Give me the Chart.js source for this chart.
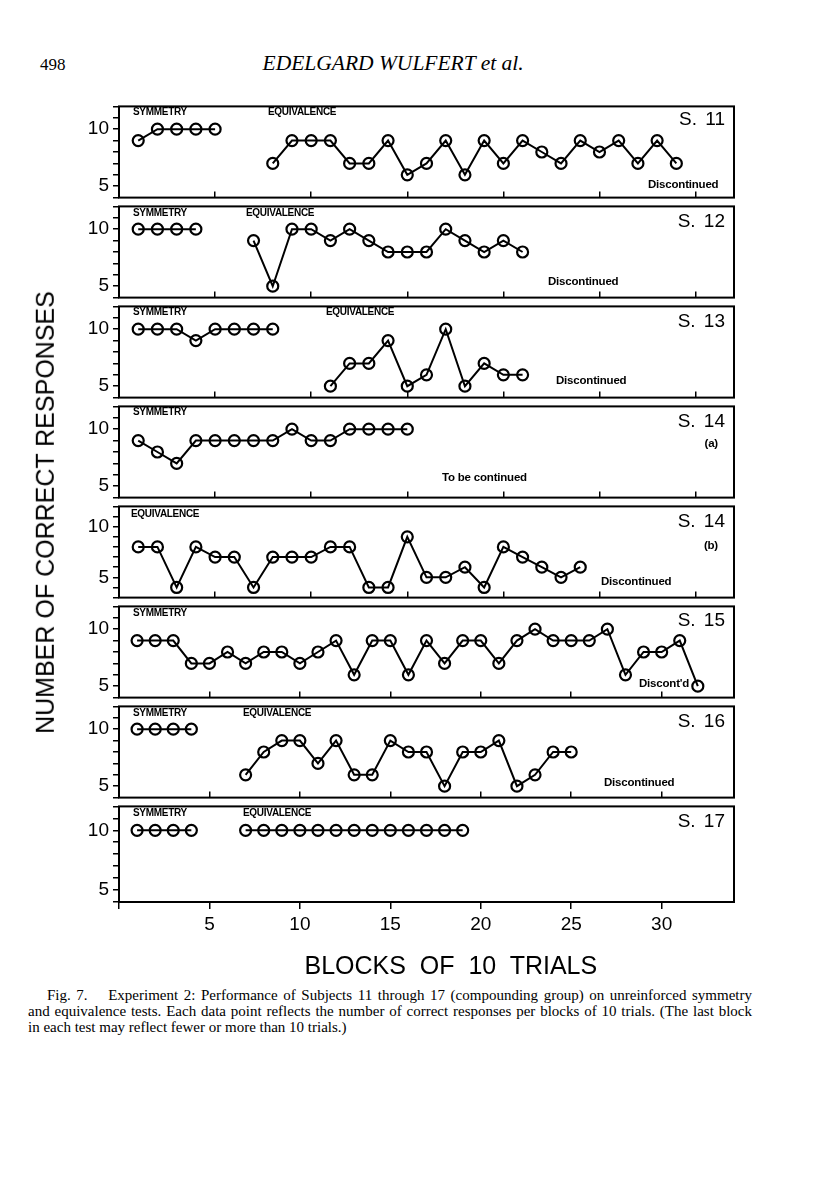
<!DOCTYPE html>
<html><head><meta charset="utf-8">
<script src="https://cdn.jsdelivr.net/npm/chart.js@4.4.0/dist/chart.umd.min.js"></script>
<style>
html,body{margin:0;padding:0;background:#fff;}
#page{position:relative;width:816px;height:1193px;overflow:hidden;background:#fff;}
canvas{position:absolute;}
.t{position:absolute;white-space:nowrap;line-height:1;color:#000;font-family:"Liberation Sans",Arial,sans-serif;}
.lab{font-weight:bold;font-size:10px;letter-spacing:-0.3px;}
.disc{font-weight:bold;font-size:11.5px;letter-spacing:-0.2px;}
.subj{font-size:19px;word-spacing:3px;}
.big{font-size:25px;}
.serif{font-family:"Liberation Serif","Times New Roman",serif;}
.cap{position:absolute;font-family:"Liberation Serif","Times New Roman",serif;font-size:15px;line-height:16px;color:#000;white-space:nowrap;}
.just{text-align:justify;text-align-last:justify;white-space:normal;}
</style>
</head><body><div id="page"></div>
<script>
// ---------- data ----------
const xTickValues = [5, 10, 15, 20, 25, 30];
const yTickValues = [4, 5, 6, 7, 8, 9, 10, 11, 12];
const yTickValues14b = [3, 4, 5, 6, 7, 8, 9, 10, 11, 12];
const yLabelValues = [5, 10];

const s11SymStart = 1, s11Sym = [9, 10, 10, 10, 10];
const s11EqStart = 8,  s11Eq = [7, 9, 9, 9, 7, 7, 9, 6, 7, 9, 6, 9, 7, 9, 8, 7, 9, 8, 9, 7, 9, 7];
const s12SymStart = 1, s12Sym = [10, 10, 10, 10];
const s12EqStart = 7,  s12Eq = [9, 5, 10, 10, 9, 10, 9, 8, 8, 8, 10, 9, 8, 9, 8];
const s13SymStart = 1, s13Sym = [10, 10, 10, 9, 10, 10, 10, 10];
const s13EqStart = 11, s13Eq = [5, 7, 7, 9, 5, 6, 10, 5, 7, 6, 6];
const s14aSymStart = 1, s14aSym = [9, 8, 7, 9, 9, 9, 9, 9, 10, 9, 9, 10, 10, 10, 10];
const s14bEqStart = 1, s14bEq = [8, 8, 4, 8, 7, 7, 4, 7, 7, 7, 8, 8, 4, 4, 9, 5, 5, 6, 4, 8, 7, 6, 5, 6];
const s15SymStart = 1, s15Sym = [9, 9, 9, 7, 7, 8, 7, 8, 8, 7, 8, 9, 6, 9, 9, 6, 9, 7, 9, 9, 7, 9, 10, 9, 9, 9, 10, 6, 8, 8, 9, 5];
const s16SymStart = 1, s16Sym = [10, 10, 10, 10];
const s16EqStart = 7,  s16Eq = [6, 8, 9, 9, 7, 9, 6, 6, 9, 8, 8, 5, 8, 8, 9, 5, 6, 8, 8];
const s17SymStart = 1, s17Sym = [10, 10, 10, 10];
const s17EqStart = 7,  s17Eq = [10, 10, 10, 10, 10, 10, 10, 10, 10, 10, 10, 10, 10];

// ---------- panels ----------
const panels = [
  {series: [[s11SymStart, s11Sym], [s11EqStart, s11Eq]], xMax: 32, yTicks: yTickValues},
  {series: [[s12SymStart, s12Sym], [s12EqStart, s12Eq]], xMax: 32, yTicks: yTickValues},
  {series: [[s13SymStart, s13Sym], [s13EqStart, s13Eq]], xMax: 32, yTicks: yTickValues},
  {series: [[s14aSymStart, s14aSym]], xMax: 32, yTicks: yTickValues},
  {series: [[s14bEqStart, s14bEq]], xMax: 32, yTicks: yTickValues14b},
  {series: [[s15SymStart, s15Sym]], xMax: 34, yTicks: yTickValues},
  {series: [[s16SymStart, s16Sym], [s16EqStart, s16Eq]], xMax: 34, yTicks: yTickValues},
  {series: [[s17SymStart, s17Sym], [s17EqStart, s17Eq]], xMax: 34, yTicks: yTickValues}
];

const page = document.getElementById('page');
const tickFont = {family: '"Liberation Sans", Arial, sans-serif', size: 19};

const framePlugin = {
  id: 'frame',
  afterDraw(c) {
    const {ctx, chartArea: a} = c;
    ctx.save();
    ctx.strokeStyle = '#000';
    ctx.lineWidth = 2;
    ctx.strokeRect(a.left, a.top, a.right - a.left, a.bottom - a.top);
    ctx.restore();
  }
};

panels.forEach((p, i) => {
  const last = i === panels.length - 1;
  const H = last ? 161 : 122;
  const cv = document.createElement('canvas');
  cv.width = 760; cv.height = H;
  cv.style.left = '0px'; cv.style.top = (91 + 100 * i) + 'px';
  cv.style.width = '760px'; cv.style.height = H + 'px';
  page.appendChild(cv);
  new Chart(cv, {
    type: 'line',
    data: {
      datasets: p.series.map(([start, vals]) => ({
        data: vals.map((v, k) => ({x: start + k, y: v})),
        borderColor: '#000', borderWidth: 2, tension: 0,
        pointRadius: 5.5, pointBorderWidth: 2.2, pointBorderColor: '#000',
        pointBackgroundColor: 'rgba(0,0,0,0)', clip: false
      }))
    },
    options: {
      responsive: false, animation: false, events: [],
      layout: {padding: {left: 0, right: 26, top: 11, bottom: last ? 10 : 11}},
      plugins: {legend: {display: false}, tooltip: {enabled: false}},
      scales: {
        x: {
          type: 'linear', min: 0, max: p.xMax, position: 'bottom',
          afterBuildTicks: s => { s.ticks = (last ? [0, ...xTickValues] : xTickValues).map(v => ({value: v})); },
          afterFit: s => { s.height = last ? 40 : 0; },
          grid: {drawOnChartArea: false, drawTicks: true, tickLength: last ? 7 : -6, color: '#000', lineWidth: 1.5},
          border: {display: false},
          ticks: {display: last, font: tickFont, color: '#000', padding: 4, maxRotation: 0, autoSkip: false,
                  callback: v => (v === 0 ? '' : String(v))}
        },
        y: {
          type: 'linear', min: p.yTicks[0], max: 12, position: 'left',
          afterBuildTicks: s => { s.ticks = p.yTicks.map(v => ({value: v})); },
          afterFit: s => { s.width = 119; },
          grid: {drawOnChartArea: false, drawTicks: true, tickLength: 6, color: '#000', lineWidth: 1.5},
          border: {display: false},
          ticks: {font: tickFont, color: '#000', padding: 4, autoSkip: false,
                  callback: v => (yLabelValues.includes(v) ? String(v) : '')}
        }
      }
    },
    plugins: [framePlugin]
  });
});

// ---------- text ----------
function addText(txt, cls, x, yc, align, pre) {
  const d = document.createElement('div');
  d.className = 't ' + cls;
  if (pre) d.style.whiteSpace = 'pre';
  d.textContent = txt;
  page.appendChild(d);
  const h = d.offsetHeight;
  d.style.top = (yc - h / 2) + 'px';
  if (align === 'right') d.style.right = (816 - x) + 'px';
  else if (align === 'center') { d.style.left = (x - d.offsetWidth / 2) + 'px'; }
  else d.style.left = x + 'px';
  return d;
}
const annotations = [
  ['SYMMETRY', 'lab', 133, 112], ['EQUIVALENCE', 'lab', 268, 112], ['S. 11', 'subj', 725, 118, 'right'], ['Discontinued', 'disc', 648, 185],
  ['SYMMETRY', 'lab', 133, 213], ['EQUIVALENCE', 'lab', 246, 213], ['S. 12', 'subj', 725, 220, 'right'], ['Discontinued', 'disc', 548, 282],
  ['SYMMETRY', 'lab', 133, 312], ['EQUIVALENCE', 'lab', 326, 312], ['S. 13', 'subj', 725, 320, 'right'], ['Discontinued', 'disc', 556, 381],
  ['SYMMETRY', 'lab', 133, 412], ['S. 14', 'subj', 725, 420, 'right'], ['(a)', 'disc', 718, 444, 'right'], ['To be continued', 'disc', 442, 478],
  ['EQUIVALENCE', 'lab', 131, 514], ['S. 14', 'subj', 725, 520, 'right'], ['(b)', 'disc', 718, 546, 'right'], ['Discontinued', 'disc', 601, 582],
  ['SYMMETRY', 'lab', 133, 613], ['S. 15', 'subj', 725, 619, 'right'], ["Discont'd", 'disc', 639, 684],
  ['SYMMETRY', 'lab', 133, 713], ['EQUIVALENCE', 'lab', 243, 713], ['S. 16', 'subj', 725, 720, 'right'], ['Discontinued', 'disc', 604, 783],
  ['SYMMETRY', 'lab', 133, 813], ['EQUIVALENCE', 'lab', 243, 813], ['S. 17', 'subj', 725, 820, 'right']
];
annotations.forEach(a => addText(a[0], a[1], a[2], a[3], a[4]));

addText('BLOCKS  OF  10  TRIALS', 'big', 451, 965, 'center', true);
const yt = document.createElement('div');
yt.className = 't big';
yt.textContent = 'NUMBER OF CORRECT RESPONSES';
page.appendChild(yt);
yt.style.left = (45 - yt.offsetWidth / 2) + 'px';
yt.style.top = (512 - yt.offsetHeight / 2) + 'px';
yt.style.transform = 'rotate(-90deg)';

const h1 = addText('498', 'serif', 40, 64); h1.style.fontSize = '17px'; h1.style.top = (64 - h1.offsetHeight / 2) + 'px';
const h2 = document.createElement('div');
h2.className = 't serif'; h2.style.fontSize = '21.5px'; h2.style.fontStyle = 'italic';
h2.textContent = 'EDELGARD WULFERT et al.';
page.appendChild(h2);
h2.style.left = (393 - h2.offsetWidth / 2) + 'px';
h2.style.top = (64 - h2.offsetHeight / 2) + 'px';

const capLines = [
  ['Fig. 7.\u2003 Experiment 2: Performance of Subjects 11 through 17 (compounding group) on unreinforced symmetry', 47, 987, true],
  ['and equivalence tests. Each data point reflects the number of correct responses per blocks of 10 trials. (The last block', 28, 1003, true],
  ['in each test may reflect fewer or more than 10 trials.)', 28, 1019, false]
];
capLines.forEach(([txt, x, y, j]) => {
  const d = document.createElement('div');
  d.className = 'cap' + (j ? ' just' : '');
  d.textContent = txt;
  d.style.left = x + 'px'; d.style.top = y + 'px';
  if (j) d.style.width = (752 - x) + 'px';
  page.appendChild(d);
});
</script>
</body></html>
